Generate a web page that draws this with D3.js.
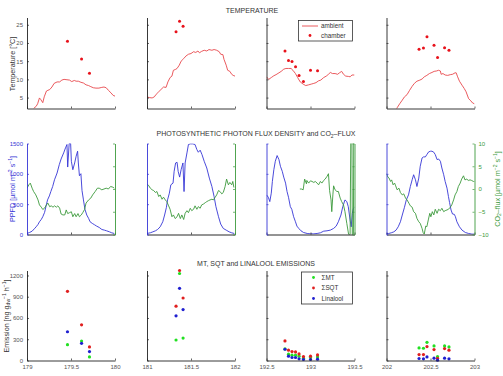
<!DOCTYPE html>
<html><head><meta charset="utf-8">
<script src="https://cdn.jsdelivr.net/npm/d3@7"></script>
<style>
body{margin:0;background:#fff;}
text{font-family:"Liberation Sans",Arial,sans-serif;}
</style></head>
<body><svg id="c" width="503" height="376"></svg>
<script>
// ---------- DATA ----------
const panelStart = [179, 181, 192.5, 202];   // day of year at left edge of each column
const xTickLabels = [["179","179.5","180"],["181","181.5","182"],["192.5","193","193.5"],["202","202.5","203"]];
const tempTicks = [5,10,15,20,25];
const ppfdTicks = [0,500,1000,1500];
const co2Ticks = [-10,-5,0,5,10];
const emisTicks = [0,300,600,900,1200];

// ambient temperature (hours since panel start, °C)
const ambHours1 = [1.8,2.5,2.9,3.4,3.8,4.3,4.7,5.3,5.7,6.2,6.8,7.4,8.2,8.9,9.5,10.1,10.9,11.6,12.2,12.9,13.4,14.0,14.7,15.4,16.1,16.8,17.4,18.1,18.8,19.6,20.4,21.0,21.6,22.2,22.9,23.5,24.0];
const ambTemp1 = [2,2.6,3.3,4.9,4.4,3.6,5.2,6.8,7.0,7.2,7.9,8.9,9.3,9.3,9.8,10.0,9.9,9.8,9.4,9.7,9.5,9.5,9.2,9.0,8.5,8.3,8.0,7.7,7.6,7.6,7.8,7.9,7.7,7.0,6.3,5.6,5.4];
const ambHours2 = [0,0.6,1.4,2.0,2.5,3.2,3.8,4.5,5.2,5.7,6.3,6.8,7.2,7.7,8.2,8.8,9.3,10.0,10.6,11.3,12.0,12.7,13.3,13.9,14.3,14.9,15.6,16.3,16.9,17.7,18.3,19.0,19.7,20.1,20.7,21.0,21.6,22.0,22.6,23.1,23.5,24.0];
const ambTemp2 = [5.2,5.0,4.9,5.2,5.9,6.6,7.2,7.9,7.8,9.3,10.5,10.9,12.5,12.7,13.0,13.9,15.0,15.7,16.4,16.9,17.1,17.6,17.4,17.8,17.3,17.7,18.0,17.8,18.2,18.0,18.2,18.0,17.6,16.9,16.8,15.5,13.9,12.5,12.2,11.4,11.1,10.9];
const ambHours3 = [0,0.6,1.3,2.0,2.6,3.4,4.0,4.7,5.3,6.0,6.7,7.2,7.9,8.5,9.2,10.0,10.7,11.5,12.2,12.9,13.5,14.2,14.8,15.6,16.3,16.9,17.4,18.0,18.7,19.4,19.9,20.5,21.0,21.6,22.4,22.8,23.3,24.0];
const ambTemp3 = [10.7,10.0,10.5,11.0,11.3,11.8,12.2,12.8,13.0,13.0,13.0,12.5,11.6,10.5,9.3,8.7,8.3,8.5,8.7,8.9,9.1,9.6,9.8,10.5,10.9,11.4,11.9,11.6,11.6,11.4,11.8,12.2,11.4,10.9,10.8,10.7,11.2,11.2];
const ambHours4 = [2.6,2.9,3.6,4.3,4.9,5.6,6.3,7.0,7.6,8.3,9.1,9.7,10.3,11.0,11.7,12.4,13.0,13.6,14.2,14.7,14.9,15.4,16.0,16.7,17.4,18.0,18.7,19.0,19.4,19.9,20.6,21.2,21.7,22.4,23.0,23.5,24.0];
const ambTemp4 = [1.5,2.2,3.3,4.3,5.2,5.8,7.0,8.1,8.9,9.5,9.8,10.1,10.7,11.1,11.6,11.9,12.2,12.3,12.5,12.3,11.4,11.6,11.2,11.1,11.3,11.4,11.8,11.8,10.7,9.5,8.4,7.5,6.6,4.7,4.1,3.5,3.3];

// sampling days (chamber temperature and emissions)
const sampleDays1 = [179.46,179.62,179.71];
const sampleDays2 = [181.33,181.37,181.41];
const sampleDays3 = [192.71,192.75,192.79,192.83,192.87,192.92,193.0,193.08];
const sampleDays4 = [202.37,202.42,202.46,202.54,202.58,202.66,202.71];
const chamberTemp1 = [20.5,15.6,11.7];
const chamberTemp2 = [23.1,26.0,24.6];
const chamberTemp3 = [17.8,15.2,14.9,13.5,11.1,9.4,12.5,12.4];
const chamberTemp4 = [18.3,18.6,21.7,19.4,16.0,18.7,18.0];

// PPFD
const ppfdHours1 = [0,0.7,1.4,2.0,2.5,3.0,3.4,3.9,4.3,4.8,5.2,5.6,6.1,6.5,7.0,7.5,8.2,8.8,9.3,10.0,10.5,10.9,11.1,11.5,11.9,12.1,12.5,13.0,13.4,13.8,14.0,14.3,14.7,15.0,15.4,15.8,16.3,16.8,17.2,17.8,18.4,19.0,19.7,20.4,21.1,21.7,22.5,23.1,23.8];
const ppfd1 = [17,33,55,94,127,166,210,249,293,365,470,570,636,708,791,902,1013,1151,1245,1345,1428,1483,1112,1500,1500,1207,1068,1179,1290,1373,1179,969,1002,725,570,415,321,266,210,183,161,138,116,83,72,61,44,28,17];
const ppfdHours2 = [0,0.9,1.6,2.3,2.9,3.6,4.3,4.8,5.3,5.6,6.1,6.5,7.1,7.4,7.8,8.2,8.5,8.9,9.3,9.8,10.1,10.4,10.9,11.3,11.8,12.5,13.1,13.6,14.0,14.5,15.0,15.6,16.3,17.0,17.7,18.3,18.8,19.5,20.1,20.8,21.6,22.4,23.1,23.8];
const ppfd2 = [17,28,44,61,83,127,210,321,448,570,681,819,847,1041,1179,1190,1041,946,1068,1179,708,1179,1345,1483,1494,1494,1483,1400,1356,1390,1317,1207,1096,930,791,625,459,293,172,100,72,44,28,17];
const ppfdHours3 = [0,0.5,0.9,1.3,1.6,2.0,2.4,2.9,3.4,3.8,4.3,4.7,5.2,5.6,6.0,6.5,6.9,7.4,7.9,8.3,8.8,9.4,10.1,11.1,12.0,12.9,13.8,14.7,15.6,16.5,17.4,18.3,19.0,19.6,20.3,20.8,21.4,21.9,22.3,22.8,23.1,23.4,23.7,24.0];
const ppfd3 = [653,614,542,681,874,1068,1207,1301,1234,1124,1041,946,847,708,614,459,415,293,210,138,100,61,33,17,11,11,17,28,55,61,72,100,138,210,321,459,570,542,459,238,127,349,431,448];
const ppfdHours4 = [0,0.6,1.3,2.0,2.6,3.2,3.8,4.3,4.9,5.4,6.0,6.5,7.0,7.4,7.9,8.3,8.8,9.2,9.7,10.1,10.6,11.0,11.5,12.0,12.4,12.9,13.3,13.8,14.2,14.7,15.1,15.6,16.0,16.5,16.9,17.2,17.6,18.0,18.5,18.8,19.2,19.9,20.6,21.5,22.4,23.3,24.0];
const ppfd4 = [17,17,28,44,72,127,210,321,448,570,653,791,902,985,902,791,930,1124,1262,1279,1279,1317,1362,1373,1373,1356,1317,1234,1245,1207,1096,985,874,764,625,526,404,338,332,293,210,127,72,33,17,6,6];

// CO2 flux
const co2Hours1 = [0,0.5,0.9,1.4,1.8,2.4,3.0,3.4,3.9,4.3,4.8,5.3,5.7,6.2,6.6,7.1,7.5,8.0,8.4,8.9,9.3,9.8,10.3,10.7,11.1,11.6,12.1,12.5,13.0,13.4,13.9,14.3,14.8,15.2,15.7,16.1,16.8,17.4,17.9,18.6,19.2,19.7,20.4,21.0,21.6,22.2,22.8,23.4,23.8];
const co2Flux1 = [0.18,0.92,1.29,0.18,-0.55,-1.29,-2.4,-3.5,-4.0,-4.5,-4.2,-3.5,-3.1,-3.9,-3.7,-4.0,-3.7,-4.0,-3.7,-4.2,-5.5,-5.7,-5.7,-4.6,-5.4,-5.2,-5.0,-6.1,-5.4,-6.1,-5.4,-6.1,-5.7,-5.2,-4.5,-3.1,-2.4,-2.0,-1.3,-0.55,0.18,0.18,-0.18,0.0,0.18,0.0,0.55,0.4,0.18];
const co2Hours2 = [0,0.5,0.9,1.4,1.8,2.3,2.7,3.2,3.6,4.1,4.5,5.0,5.4,5.9,6.3,6.8,7.2,7.7,8.2,8.6,9.1,9.5,10.0,10.4,10.9,11.3,11.8,12.2,12.7,13.1,13.6,14.0,14.5,14.9,15.4,15.9,16.3,16.8,17.2,17.7,18.1,18.6,19.0,19.5,19.9,20.4,20.8,21.3,21.7,22.2,22.6,23.1,23.4,23.7];
const co2Flux2 = [1.14,0.7,0.18,-0.18,-0.33,-0.77,-0.55,-1.66,-1.3,-2.25,-1.8,-2.4,-2.77,-3.7,-4.46,-6.1,-5.7,-6.5,-6.1,-5.35,-6.5,-5.7,-6.7,-5.35,-4.76,-5.2,-4.24,-4.76,-4.46,-3.7,-4.46,-3.87,-4.24,-3.5,-3.3,-3.0,-2.77,-2.55,-2.4,-2.25,-2.4,-1.8,-1.3,-0.33,-0.55,-1.07,-0.77,0.55,2.18,0.92,1.44,0.92,1.66,0.33];
const co2Hours3 = [9.1,9.5,10.0,10.4,10.9,11.0,11.5,12.0,12.4,12.9,13.3,13.8,14.2,14.7,15.1,15.6,16.0,16.5,16.9,17.2,17.6,17.8,18.1,18.3,18.7,19.2,19.6,20.1,20.5,21.0,21.4,21.9,22.4,22.8,23.0,23.3,23.4,23.7,23.8,24.0];
const co2Flux3 = [0,0,-0.18,2.18,1.14,1.88,1.3,1.8,1.66,1.44,1.66,1.3,0.92,1.66,1.3,1.88,2.18,2.77,3.36,-0.33,-2.4,-4.98,-1.29,0.7,-0.18,-0.55,-0.55,-2.0,-2.77,-3.5,-4.98,-7.56,-10,-10,12,12,-10,-10,12,12];
const co2Hours4 = [0,0.4,0.7,1.1,1.4,1.8,2.2,2.5,2.9,3.4,3.8,4.3,4.7,5.2,5.6,6.1,6.5,7.0,7.4,7.9,8.3,8.8,9.2,9.7,10.0,10.3,10.7,11.0,11.4,11.8,12.1,12.5,12.9,13.3,13.8,14.2,14.7,15.1,15.6,16.0,16.5,16.9,17.4,17.8,18.3,18.7,19.2,19.6,20.1,20.5,21.0,21.4,21.9,22.3,22.8,23.2,23.7,24.0];
const co2Flux4 = [3.36,2.6,2.4,1.66,2.0,0.92,1.3,0.7,-0.18,0.18,-0.77,-1.3,-1.07,-2.0,-2.4,-3.1,-3.7,-4.0,-4.98,-5.35,-6.46,-7.2,-7.56,-8.67,-9.6,-9.9,-8.15,-8.3,-6.8,-5.35,-6.1,-4.98,-5.7,-4.46,-5.35,-4.46,-4.76,-4.24,-4.98,-4.76,-4.6,-4.46,-4.0,-3.5,-2.4,-1.3,-0.55,0.55,1.3,2.18,2.9,2.0,2.18,1.88,2.0,1.88,1.66,1.66];

// emissions (ng g_dw^-1 h^-1)
const mt1 = [224,275,51],  sqt1 = [976,504,191],  lin1 = [406,243,126];
const mt2 = [289,1228,317], sqt2 = [766,1270,882], lin2 = [630,1018,719];
const mt3 = [164,89,75,75,61,33,42,51], sqt3 = [276,145,126,121,93,56,61,79], lin3 = [159,61,42,42,23,14,14,19];
const mt4 = [177,173,257,206,56,206,192], sqt4 = [84,84,196,154,30,168,145], lin4 = [28,23,51,33,5,33,23];

// ---------- ASSEMBLY ----------
const ambH=[ambHours1,ambHours2,ambHours3,ambHours4], ambT=[ambTemp1,ambTemp2,ambTemp3,ambTemp4];
const sDays=[sampleDays1,sampleDays2,sampleDays3,sampleDays4], chT=[chamberTemp1,chamberTemp2,chamberTemp3,chamberTemp4];
const pH=[ppfdHours1,ppfdHours2,ppfdHours3,ppfdHours4], pV=[ppfd1,ppfd2,ppfd3,ppfd4];
const cH=[co2Hours1,co2Hours2,co2Hours3,co2Hours4], cV=[co2Flux1,co2Flux2,co2Flux3,co2Flux4];
const MT=[mt1,mt2,mt3,mt4], SQT=[sqt1,sqt2,sqt3,sqt4], LIN=[lin1,lin2,lin3,lin4];

const C = {amb:"#e8474c", ch:"#e8111a", blue:"#3535d6", green:"#3c9a3c",
           mt:"#22e022", sqt:"#e01f1f", lin:"#1f1fd0", axis:"#222", tick:"#555", title:"#333"};

const svg = d3.select("#c");
const colX = [27,147,266.5,386.5], W = 88;
const rows = [{top:17.5,bot:108.5},{top:143.5,bot:234.5},{top:270.5,bot:360.5}];
const defs = svg.append("defs");

function richText(sel, parts, size){
  let shift = 0;
  parts.forEach(p=>{
    const t = sel.append("tspan").text(p[0]);
    let target = 0, fs = size;
    if(p[1]==="sup"){ target = -0.38*size; fs = size*0.7; }
    if(p[1]==="sub"){ target = 0.25*size; fs = size*0.7; }
    t.attr("dy", target-shift).style("font-size", fs+"px");
    shift = target;
  });
}

function styleAxis(g, col, tickCol){
  g.select(".domain").attr("stroke", col).attr("stroke-width",0.9);
  g.selectAll(".tick line").attr("stroke", col).attr("stroke-width",0.7);
  g.selectAll(".tick text").attr("fill", tickCol).style("font-size","6px").style("font-family","'Liberation Sans',Arial,sans-serif");
}

for(let i=0;i<4;i++){
  const x = d3.scaleLinear().domain([panelStart[i], panelStart[i]+1]).range([colX[i], colX[i]+W]);
  const hx = h => x(panelStart[i] + h/24);

  // ---- Row 1: temperature ----
  {
    const r = rows[0];
    const y = d3.scaleLinear().domain([2,27]).range([r.bot, r.top]);
    const cid = "clipT"+i;
    defs.append("clipPath").attr("id",cid).append("rect").attr("x",colX[i]).attr("y",r.top).attr("width",W).attr("height",r.bot-r.top);
    const g = svg.append("g");
    const line = d3.line().x((d,k)=>hx(ambH[i][k])).y(d=>y(d));
    g.append("path").attr("clip-path",`url(#${cid})`).attr("d", line(ambT[i])).attr("fill","none").attr("stroke",C.amb).attr("stroke-width",0.9);
    g.selectAll("circle").data(chT[i]).join("circle").attr("cx",(d,k)=>x(sDays[i][k])).attr("cy",d=>y(d)).attr("r",1.5).attr("fill",C.ch);
    const ya = svg.append("g").attr("transform",`translate(${colX[i]},0)`).call(d3.axisLeft(y).tickValues(tempTicks).tickSize(-2).tickSizeOuter(0).tickPadding(4).tickFormat(i===0?d3.format("d"):()=>""));
    styleAxis(ya, C.axis, C.tick);
    const xa = svg.append("g").attr("transform",`translate(0,${r.bot})`).call(d3.axisBottom(x).ticks(3).tickValues([panelStart[i],panelStart[i]+0.5,panelStart[i]+1]).tickSize(-2).tickSizeOuter(0).tickFormat(()=>""));
    styleAxis(xa, C.axis, C.tick);
  }
  // ---- Row 2: PPFD & CO2 ----
  {
    const r = rows[1];
    const y = d3.scaleLinear().domain([0,1500]).range([r.bot, r.top]);
    const y2 = d3.scaleLinear().domain([-10,10]).range([r.bot, r.top]);
    const cid = "clipP"+i;
    defs.append("clipPath").attr("id",cid).append("rect").attr("x",colX[i]).attr("y",r.top).attr("width",W).attr("height",r.bot-r.top);
    const g = svg.append("g").attr("clip-path",`url(#${cid})`);
    g.append("path").attr("d", d3.line().x((d,k)=>hx(pH[i][k])).y(d=>y(d))(pV[i])).attr("fill","none").attr("stroke",C.blue).attr("stroke-width",0.9);
    g.append("path").attr("d", d3.line().x((d,k)=>hx(cH[i][k])).y(d=>y2(d))(cV[i])).attr("fill","none").attr("stroke",C.green).attr("stroke-width",0.9);
    const xa = svg.append("g").attr("transform",`translate(0,${r.bot})`).call(d3.axisBottom(x).tickValues([panelStart[i],panelStart[i]+0.5,panelStart[i]+1]).tickSize(-2).tickSizeOuter(0).tickFormat(()=>""));
    styleAxis(xa, "#111", C.tick);
    const ya = svg.append("g").attr("transform",`translate(${colX[i]},0)`).call(d3.axisLeft(y).tickValues(ppfdTicks).tickSize(-2).tickSizeOuter(0).tickPadding(4).tickFormat(i===0?d3.format("d"):()=>""));
    styleAxis(ya, C.blue, C.blue);
    const yr = svg.append("g").attr("transform",`translate(${colX[i]+W},0)`).call(d3.axisRight(y2).tickValues(co2Ticks).tickSize(-2).tickSizeOuter(0).tickPadding(4).tickFormat(i===3?d3.format("d"):()=>""));
    styleAxis(yr, C.green, C.green);
  }
  // ---- Row 3: emissions ----
  {
    const r = rows[2];
    const y = d3.scaleLinear().domain([0,1270]).range([r.bot, r.top]);
    const g = svg.append("g");
    const series = [[MT[i],C.mt],[SQT[i],C.sqt],[LIN[i],C.lin]];
    series.forEach(([vals,col])=>{
      g.append("g").selectAll("circle").data(vals).join("circle")
        .attr("cx",(d,k)=>x(sDays[i][k])).attr("cy",d=>y(d)).attr("r",1.6).attr("fill",col);
    });
    const xa = svg.append("g").attr("transform",`translate(0,${r.bot})`).call(d3.axisBottom(x).tickValues([panelStart[i],panelStart[i]+0.5,panelStart[i]+1]).tickSize(-2).tickSizeOuter(0).tickPadding(4).tickFormat((d,k)=>xTickLabels[i][k]));
    styleAxis(xa, C.axis, C.tick);
    const ya = svg.append("g").attr("transform",`translate(${colX[i]},0)`).call(d3.axisLeft(y).tickValues(emisTicks).tickSize(-2).tickSizeOuter(0).tickPadding(4).tickFormat(i===0?d3.format("d"):()=>""));
    styleAxis(ya, C.axis, C.tick);
  }
}

// ---------- Titles ----------
const tfs = 7;
svg.append("text").attr("x",252).attr("y",13).attr("text-anchor","middle").attr("fill",C.title).style("font-size",tfs+"px").text("TEMPERATURE");
richText(svg.append("text").attr("x",256).attr("y",136).attr("text-anchor","middle").attr("fill",C.title).style("font-size",tfs+"px"),
  [["PHOTOSYNTHETIC PHOTON FLUX DENSITY and CO"],["2","sub"],["–FLUX"]], tfs);
svg.append("text").attr("x",256).attr("y",266).attr("text-anchor","middle").attr("fill",C.title).style("font-size",tfs+"px").text("MT, SQT and LINALOOL EMISSIONS");

// ---------- Axis labels ----------
const lfs = 7.2;
svg.append("text").attr("transform","translate(14.5,64) rotate(-90)").attr("text-anchor","middle").attr("fill","#333").style("font-size",lfs+"px").text("Temperature [°C]");
richText(svg.append("text").attr("transform","translate(14.5,189) rotate(-90)").attr("text-anchor","middle").attr("fill",C.blue).style("font-size",lfs+"px"),
  [["PPFD [µmol m"],["−2","sup"],[" s"],["−1","sup"],["]"]], lfs);
richText(svg.append("text").attr("transform","translate(499.5,189) rotate(-90)").attr("text-anchor","middle").attr("fill",C.green).style("font-size",lfs+"px"),
  [["CO"],["2","sub"],["–flux [µmol m"],["−2","sup"],[" s"],["−1","sup"],["]"]], lfs);
richText(svg.append("text").attr("transform","translate(8.5,316) rotate(-90)").attr("text-anchor","middle").attr("fill","#333").style("font-size",lfs+"px"),
  [["Emission [ng g"],["dw","sub"],["−1","sup"],[" h"],["−1","sup"],["]"]], lfs);

// ---------- Legends ----------
{
  const lg = svg.append("g");
  lg.append("rect").attr("x",298.5).attr("y",20.5).attr("width",54).attr("height",20.5).attr("fill","#fff").attr("stroke","#333").attr("stroke-width",0.8);
  lg.append("line").attr("x1",302).attr("x2",318).attr("y1",26).attr("y2",26).attr("stroke",C.amb).attr("stroke-width",0.9);
  lg.append("circle").attr("cx",310).attr("cy",35.5).attr("r",1.4).attr("fill",C.ch);
  lg.append("text").attr("x",321).attr("y",28).attr("fill","#333").style("font-size","6.3px").text("ambient");
  lg.append("text").attr("x",321).attr("y",37.5).attr("fill","#333").style("font-size","6.3px").text("chamber");
}
{
  const lg = svg.append("g");
  lg.append("rect").attr("x",301.5).attr("y",272).attr("width",51).attr("height",32).attr("fill","#fff").attr("stroke","#333").attr("stroke-width",0.8);
  const items = [["ΣMT",C.mt],["ΣSQT",C.sqt],["Linalool",C.lin]];
  items.forEach((it,k)=>{
    const yy = 277.5 + k*10.5;
    lg.append("circle").attr("cx",313.5).attr("cy",yy).attr("r",1.4).attr("fill",it[1]);
    lg.append("text").attr("x",321.5).attr("y",yy+2.2).attr("fill","#333").style("font-size","6.3px").text(it[0]);
  });
}
</script></body></html>
